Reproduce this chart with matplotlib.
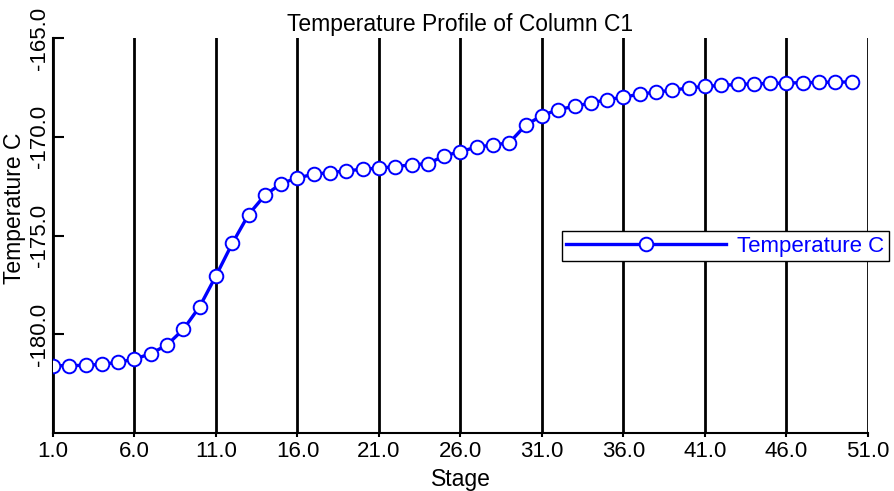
import matplotlib
matplotlib.use('Agg')
import matplotlib.pyplot as plt

plt.rcParams['font.family'] = ['Liberation Sans', 'DejaVu Sans']

# stage number and column temperature
stages = list(range(1, 51))
temps = [-181.59, -181.59, -181.57, -181.52, -181.42, -181.26, -180.98, -180.54, -179.75, -178.6,
         -177.04, -175.4, -173.94, -172.96, -172.37, -172.08, -171.9, -171.81, -171.73, -171.64,
         -171.59, -171.51, -171.42, -171.36, -170.97, -170.75, -170.52, -170.42, -170.3, -169.41,
         -168.93, -168.62, -168.46, -168.29, -168.12, -168.0, -167.84, -167.74, -167.64, -167.53,
         -167.45, -167.4, -167.35, -167.32, -167.3, -167.28, -167.26, -167.25, -167.23, -167.23]
x_ticks = [1, 6, 11, 16, 21, 26, 31, 36, 41, 46, 51]
y_ticks = [-165, -170, -175, -180]

fig = plt.figure(figsize=(8.95, 4.91), dpi=100)
ax = fig.add_axes([0.0592, 0.1181, 0.9106, 0.8045])

# black vertical grid at each stage tick
for xt in x_ticks:
    ax.axvline(xt, color='black', lw=2.0, zorder=1)

ax.plot(stages, temps, color='#0000ff', lw=2.4, marker='o', markersize=9.8,
        markerfacecolor='white', markeredgecolor='#0000ff', markeredgewidth=1.4,
        label='Temperature C', zorder=3)

ax.set_xlim(1, 51)
ax.set_ylim(-185, -165)
ax.set_xticks(x_ticks)
ax.set_xticklabels([f'{v:.1f}' for v in x_ticks], fontsize=16)
ax.set_yticks(y_ticks)
ax.set_yticklabels([f'{v:.1f}' for v in y_ticks], fontsize=16, rotation=90, va='center')

ax.spines['top'].set_visible(False)
ax.spines['right'].set_visible(False)
ax.spines['left'].set_linewidth(1.5)
ax.spines['bottom'].set_linewidth(1.5)
ax.tick_params(axis='x', direction='out', length=3, width=1.5, pad=3)
ax.tick_params(axis='y', direction='in', length=8, width=1.5, pad=2)

ax.set_title('Temperature Profile of Column C1', fontsize=16.5, pad=5)
ax.set_xlabel('Stage', fontsize=16.5, labelpad=4)
ax.set_ylabel('Temperature C', fontsize=16.5)
ax.yaxis.set_label_coords(-0.033, 0.57)

leg = ax.legend(loc='upper left', bbox_to_anchor=(0.6245, 0.511), fontsize=16,
                handlelength=7.2, handletextpad=0.5, borderpad=0.2, borderaxespad=0,
                fancybox=False, framealpha=1, edgecolor='black', numpoints=1)
leg.get_frame().set_linewidth(1.0)
for t in leg.get_texts():
    t.set_color('#0000ff')

fig.savefig('out.png', dpi=100)
